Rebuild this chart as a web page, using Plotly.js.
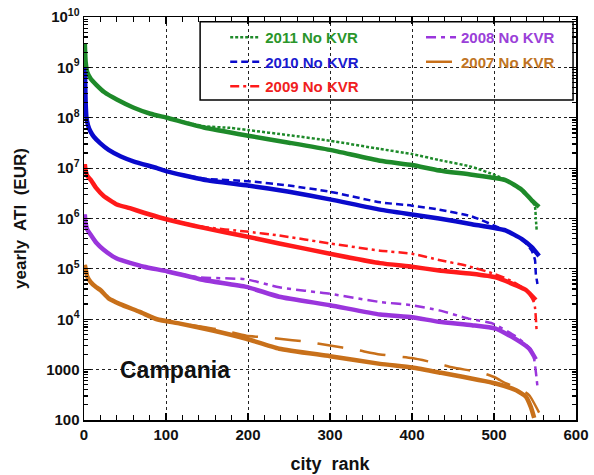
<!DOCTYPE html>
<html>
<head>
<meta charset="utf-8">
<script src="https://cdn.plot.ly/plotly-3.0.1.min.js"></script>
<style>html,body{margin:0;padding:0;background:#fff;} #chart{width:594px;height:475px;}</style>
</head>
<body>
<div id="chart"></div>
<script>
// ---- data ----
const rank2011 = [1, 2, 4, 8, 15, 25, 40, 60, 81, 101, 146, 200, 250, 300, 361, 400, 433, 473, 514, 534, 546, 555];
const atk2011  = [3e9, 1.3e9, 8e8, 6e8, 4.5e8, 3.2e8, 2.3e8, 1.6e8, 1.2e8, 1e8, 6.4e7, 4.4e7, 3.2e7, 2.3e7, 1.4e7, 1.15e7, 9e6, 7.4e6, 5.8e6, 3.7e6, 2.3e6, 1.7e6];
const rank2011n = [1, 2, 4, 8, 15, 25, 40, 60, 81, 101, 146, 178, 200, 250, 300, 361, 400, 433, 473, 502, 514, 534, 546, 550, 551, 552];
const atk2011n  = [3e9, 1.3e9, 8e8, 6e8, 4.5e8, 3.2e8, 2.3e8, 1.6e8, 1.2e8, 1e8, 6.8e7, 6.3e7, 5.7e7, 4.5e7, 3.5e7, 2.4e7, 1.9e7, 1.45e7, 1.06e7, 7.2e6, 5.9e6, 3.8e6, 2.3e6, 1.7e6, 1e6, 6e5];

const rank2010 = [1, 2, 3, 5, 8, 12, 20, 30, 45, 61, 89, 101, 146, 200, 250, 300, 361, 400, 433, 473, 514, 534, 546, 555];
const atk2010  = [1e9, 2e8, 1e8, 7e7, 5.3e7, 4.2e7, 3.1e7, 2.3e7, 1.7e7, 1.35e7, 1e7, 8.6e6, 5.9e6, 4.5e6, 3.4e6, 2.4e6, 1.5e6, 1.2e6, 1e6, 7.7e5, 5.8e5, 3.9e5, 2.7e5, 1.8e5];
const rank2010n = [1, 2, 3, 5, 8, 12, 20, 30, 45, 61, 89, 101, 146, 200, 250, 300, 361, 400, 433, 473, 506, 514, 534, 546, 550, 551, 553];
const atk2010n  = [1e9, 2e8, 1e8, 7e7, 5.3e7, 4.2e7, 3.1e7, 2.3e7, 1.7e7, 1.35e7, 1e7, 8.6e6, 6.2e6, 5.5e6, 4.5e6, 3.4e6, 2.1e6, 1.8e6, 1.5e6, 1.1e6, 6.6e5, 5.8e5, 3.9e5, 2.3e5, 1.5e5, 8e4, 5e4];

const rank2009 = [1, 2, 4, 8, 15, 24, 40, 56, 73, 97, 146, 198, 238, 300, 361, 400, 433, 473, 502, 527, 539, 551];
const atk2009  = [1.2e7, 9e6, 7e6, 5.9e6, 4e6, 2.8e6, 1.9e6, 1.6e6, 1.3e6, 1e6, 6.5e5, 4.4e5, 3.2e5, 2e5, 1.3e5, 1.1e5, 9.3e4, 8e4, 6.8e4, 4.7e4, 3.8e4, 2.4e4];
const rank2009n = [1, 2, 4, 8, 15, 24, 40, 56, 73, 97, 146, 198, 238, 300, 361, 400, 433, 467, 500, 520, 540, 548, 550, 552];
const atk2009n  = [1.2e7, 9e6, 7e6, 5.9e6, 4e6, 2.8e6, 1.9e6, 1.6e6, 1.3e6, 1e6, 6.8e5, 5.5e5, 4.6e5, 3.2e5, 2.3e5, 2e5, 1.5e5, 1.15e5, 8e4, 5.9e4, 3.7e4, 2.3e4, 1.7e4, 5.8e3];

const rank2008 = [1, 2, 4, 8, 15, 24, 40, 73, 101, 146, 198, 238, 300, 361, 400, 433, 473, 502, 527, 543, 551];
const atk2008  = [1.2e6, 8e5, 6e5, 4.8e5, 3.3e5, 2.4e5, 1.6e5, 1.1e5, 9e4, 6e4, 4.4e4, 2.8e4, 1.9e4, 1.24e4, 1.1e4, 8.9e3, 7.6e3, 6.5e3, 4e3, 2.6e3, 1.6e3];
const rank2008n = [1, 2, 4, 8, 15, 24, 40, 73, 101, 140, 198, 238, 300, 361, 400, 433, 469, 498, 527, 545, 549, 553];
const atk2008n  = [1.2e6, 8e5, 6e5, 4.8e5, 3.3e5, 2.4e5, 1.6e5, 1.1e5, 9e4, 6.8e4, 6.2e4, 4.3e4, 3.2e4, 2.2e4, 1.9e4, 1.5e4, 1.03e4, 8.3e3, 4.5e3, 2.5e3, 1.6e3, 460];

const rank2007 = [1, 2, 4, 8, 15, 20, 30, 44, 68, 89, 117, 157, 198, 238, 300, 361, 400, 433, 502, 527, 539, 545, 549];
const atk2007  = [1.2e5, 1e5, 7e4, 5.5e4, 4.3e4, 3.8e4, 2.6e4, 2e4, 1.4e4, 1e4, 8.2e3, 6e3, 4.1e3, 2.6e3, 1.85e3, 1.3e3, 1.1e3, 880, 530, 390, 290, 180, 110];
const rank2007n = [1, 2, 4, 8, 15, 20, 30, 44, 68, 89, 117, 146, 170, 198, 218, 238, 270, 300, 330, 361, 400, 433, 450, 486, 502, 514, 530, 543, 555];
const atk2007n  = [1.2e5, 1e5, 7e4, 5.5e4, 4.3e4, 3.8e4, 2.6e4, 2e4, 1.4e4, 1e4, 8.2e3, 7e3, 6e3, 4.7e3, 4.4e3, 4.1e3, 3.6e3, 3e3, 2.5e3, 2e3, 1.7e3, 1.3e3, 1.1e3, 860, 690, 540, 430, 310, 140];

const seriesNames = ['2011 No KVR', '2010 No KVR', '2009 No KVR', '2008 No KVR', '2007 No KVR'];
const yTickVals = [100, 1000, 1e4, 1e5, 1e6, 1e7, 1e8, 1e9, 1e10];
const yTickText = ['100', '1000', '10<sup>4</sup>', '10<sup>5</sup>', '10<sup>6</sup>', '10<sup>7</sup>', '10<sup>8</sup>', '10<sup>9</sup>', '10<sup>10</sup>'];
const xTickVals = [0, 100, 200, 300, 400, 500, 600];

// ---- styles ----
const colors = ['#1e8a2a', '#0a0acc', '#ff1a1a', '#9a35dc', '#c8701a'];
const textColors = ['#2a962a', '#1a1ad0', '#f02020', '#9a40d8', '#c07424'];
const dashes = ['3px,2px', '7px,4px', '9px,4px,3px,4px', '10px,5px,4px,5px', '26px,17px'];
const solidX = [rank2011, rank2010, rank2009, rank2008, rank2007];
const solidY = [atk2011, atk2010, atk2009, atk2008, atk2007];
const dashX = [rank2011n, rank2010n, rank2009n, rank2008n, rank2007n];
const dashY = [atk2011n, atk2010n, atk2009n, atk2008n, atk2007n];
const legendOf = ['legend', 'legend', 'legend', 'legend2', 'legend2'];

const traces = [];
for (let i = 0; i < 5; i++) {
  traces.push({
    x: solidX[i], y: solidY[i], type: 'scatter', mode: 'lines',
    line: {color: colors[i], width: 4.5, shape: 'spline', smoothing: 0.5},
    showlegend: false, hoverinfo: 'skip'
  });
}
for (let i = 0; i < 5; i++) {
  traces.push({
    x: dashX[i], y: dashY[i], type: 'scatter', mode: 'lines',
    name: '<span style="color:' + textColors[i] + '"><b>' + seriesNames[i] + '</b></span>',
    line: {color: colors[i], width: 2.5, dash: dashes[i], shape: 'spline', smoothing: 0.5},
    legend: legendOf[i], legendgroup: 'g' + i
  });
}

const minorY = [];
for (let e = 2; e < 10; e++) for (let m = 2; m <= 9; m++) minorY.push(m * Math.pow(10, e));

const fontFam = 'Liberation Sans, Arial, sans-serif';
const layout = {
  width: 594, height: 475,
  margin: {l: 84, r: 18, t: 17, b: 55},
  paper_bgcolor: '#fff', plot_bgcolor: '#fff',
  font: {family: fontFam, color: '#111'},
  showlegend: true,
  xaxis: {
    range: [0, 600], tickvals: xTickVals, ticks: 'inside', ticklen: 7, tickwidth: 1.2, tickcolor: '#000',
    showline: true, linecolor: '#000', linewidth: 1.5, mirror: 'ticks',
    showgrid: true, gridcolor: '#222', griddash: 'dot', gridwidth: 1, zeroline: false,
    tickfont: {size: 15, family: fontFam, weight: 'bold', color: '#111'},
    minor: {dtick: 20, ticks: 'inside', ticklen: 5, tickcolor: '#000', showgrid: false},
    title: {text: '<b>city  rank</b>', font: {size: 18, family: fontFam, color: '#111'}, standoff: 16},
    automargin: false
  },
  yaxis: {
    type: 'log', range: [2, 10], tickvals: yTickVals, ticktext: yTickText,
    ticks: 'inside', ticklen: 7, tickwidth: 1.2, tickcolor: '#000',
    showline: true, linecolor: '#000', linewidth: 1.5, mirror: 'ticks',
    showgrid: true, gridcolor: '#222', griddash: 'dot', gridwidth: 1, zeroline: false,
    tickfont: {size: 15, family: fontFam, weight: 'bold', color: '#111'},
    minor: {tickvals: minorY, ticks: 'inside', ticklen: 4, tickcolor: '#000', showgrid: false},
    title: {text: '<b>yearly  ATI  (EUR)</b>', font: {size: 17, family: fontFam, color: '#111'}, standoff: 15},
    automargin: false
  },
  legend: {
    x: 0.287, y: 0.99, xanchor: 'left', yanchor: 'top', orientation: 'v',
    bgcolor: 'rgba(0,0,0,0)', borderwidth: 0, tracegroupgap: 2, traceorder: 'grouped',
    font: {size: 15, family: fontFam}
  },
  legend2: {
    x: 0.685, y: 0.99, xanchor: 'left', yanchor: 'top', orientation: 'v',
    bgcolor: 'rgba(0,0,0,0)', borderwidth: 0, tracegroupgap: 2, traceorder: 'grouped',
    font: {size: 15, family: fontFam}
  },
  shapes: [{
    type: 'rect', xref: 'paper', yref: 'paper', x0: 0.236, x1: 0.994, y0: 0.794, y1: 0.988,
    line: {color: '#000', width: 1.5}, fillcolor: '#fff', layer: 'below'
  }],
  annotations: [{
    x: 111, y: 3, xref: 'x', yref: 'y', text: '<b>Campania</b>', showarrow: false,
    font: {size: 23, family: fontFam, color: '#111'}, xanchor: 'center', yanchor: 'middle'
  }]
};

Plotly.newPlot('chart', traces, layout, {displayModeBar: false, staticPlot: true});
</script>
</body>
</html>
